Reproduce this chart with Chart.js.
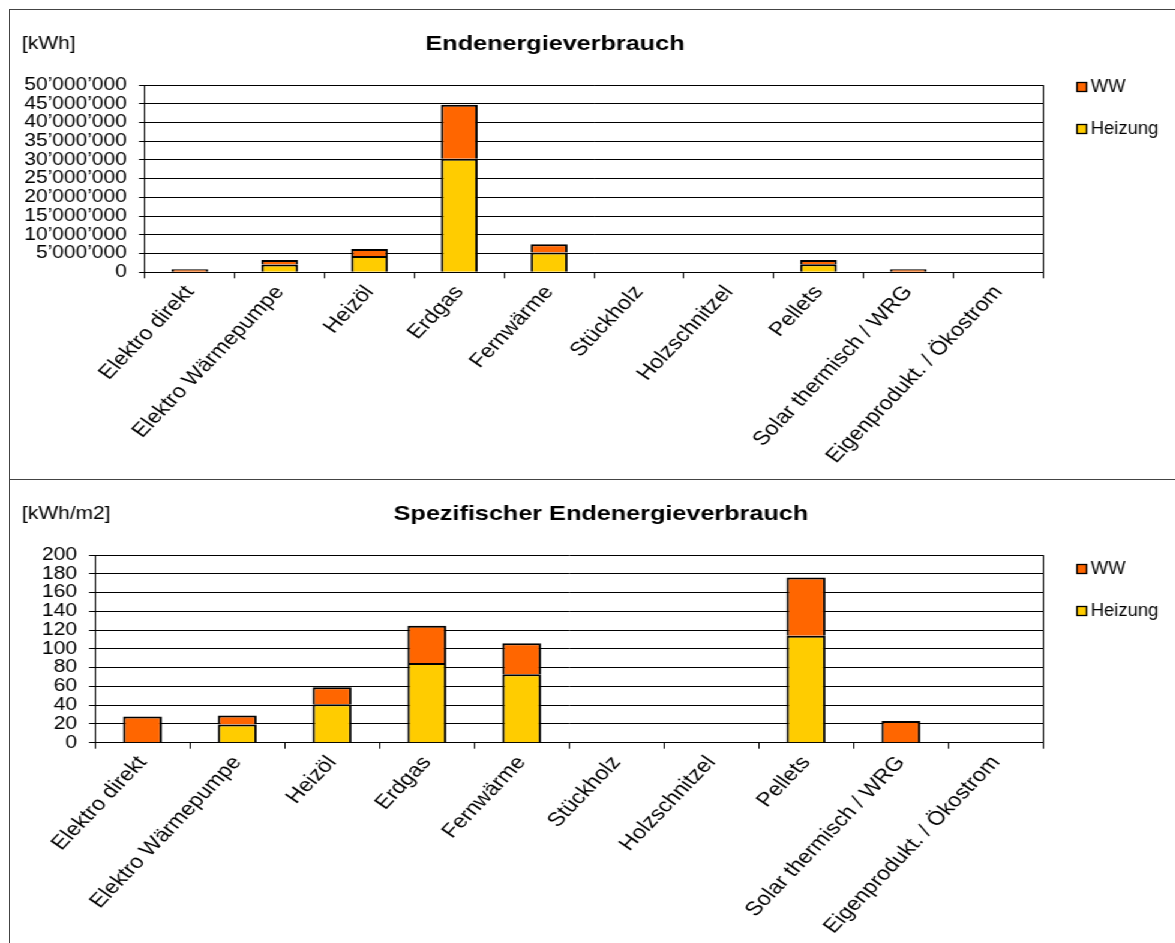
<!DOCTYPE html>
<html>
<head>
<meta charset="utf-8">
<title>Endenergieverbrauch</title>
<script src="https://cdn.jsdelivr.net/npm/chart.js@4.4.1/dist/chart.umd.min.js"></script>
<style>
  html, body { margin: 0; padding: 0; background: #fff; overflow: hidden; }
  #page { position: relative; width: 1175px; height: 943px; overflow: hidden; }
  /* charts are laid out on a narrower sheet and widened, like the printed report */
  #sheet { position: absolute; left: 0; top: 0; width: 980px; height: 943px;
           transform: scaleX(1.2); transform-origin: 0 0; }
  #sheet canvas { position: absolute; left: 0; }
  .rule { position: absolute; background: #444; }
</style>
</head>
<body>
<div id="page">
  <div id="sheet">
    <canvas id="chartTotal" width="980" height="479" style="top:0px"></canvas>
    <canvas id="chartSpez" width="980" height="464" style="top:479px"></canvas>
  </div>
  <div class="rule" style="left:9px; top:9px; width:1166px; height:1px"></div>
  <div class="rule" style="left:9px; top:9px; width:1px; height:934px"></div>
  <div class="rule" style="left:9px; top:479px; width:1166px; height:1px"></div>
</div>

<script>
// Energieträger
const categories = [
  'Elektro direkt', 'Elektro Wärmepumpe', 'Heizöl', 'Erdgas', 'Fernwärme',
  'Stückholz', 'Holzschnitzel', 'Pellets', 'Solar thermisch / WRG', 'Eigenprodukt. / Ökostrom'
];

// Endenergieverbrauch [kWh]
const heizungKWh = [null, 2100000, 4350000, 30300000, 5300000, null, null, 2150000, null, null];
const wwKWh      = [150000, 1200000, 1900000, 14400000, 2200000, null, null, 1150000, 450000, null];

// Spezifischer Endenergieverbrauch [kWh/m2]
const heizungSpez = [null, 19.5, 41, 85, 73, null, null, 114, null, null];
const wwSpez      = [28, 9.5, 18, 39.5, 33, null, null, 62, 23, null];

// Achsen
const ticksKWh  = [0, 5000000, 10000000, 15000000, 20000000, 25000000, 30000000, 35000000, 40000000, 45000000, 50000000];
const ticksSpez = [0, 20, 40, 60, 80, 100, 120, 140, 160, 180, 200];

const colorHeizung = '#FFCC00';
const colorWW = '#FF6600';
const FONT = "'Liberation Sans', Arial, sans-serif";
const SHEET_SCALE = 1.2;

function swissThousands(v) {
  return String(Math.round(v)).replace(/\B(?=(\d{3})+(?!\d))/g, '\u2019');
}

// titles, unit label, legend and the right edge of the plot frame
const decor = {
  id: 'decor',
  afterDraw(chart, args, o) {
    const ctx = chart.ctx;
    const a = chart.chartArea;
    ctx.save();
    ctx.strokeStyle = '#000';
    ctx.lineWidth = 1;
    const xr = Math.round(a.right) + 0.5;
    ctx.beginPath();
    ctx.moveTo(xr, a.top);
    ctx.lineTo(xr, a.bottom);
    ctx.stroke();

    ctx.fillStyle = '#000';
    ctx.textBaseline = 'middle';
    ctx.textAlign = 'left';
    ctx.font = `17.5px ${FONT}`;
    ctx.fillText(o.unit, o.unitX, o.unitY);

    ctx.textAlign = 'center';
    ctx.font = `bold 21px ${FONT}`;
    ctx.fillText(o.title, o.titleX, o.titleY);

    // legend, top entry is the upper stack segment
    const ds = chart.data.datasets.slice().reverse();
    ds.forEach((d, i) => {
      const y = o.legendY + i * o.legendGap;
      ctx.fillStyle = d.backgroundColor;
      ctx.fillRect(o.legendX, y - 4.5, 8, 9);
      ctx.strokeStyle = '#000';
      ctx.lineWidth = 1.3;
      ctx.strokeRect(o.legendX, y - 4.5, 8, 9);
      ctx.save();
      ctx.translate(o.legendX + 11.5, y);
      ctx.scale(1.05 / SHEET_SCALE, 1);
      ctx.fillStyle = '#000';
      ctx.textAlign = 'left';
      ctx.font = `17.5px ${FONT}`;
      ctx.fillText(d.label, 0, 0);
      ctx.restore();
    });
    ctx.restore();
  }
};

function makeChart(canvasId, cfg) {
  const H = cfg.height;
  return new Chart(document.getElementById(canvasId), {
    type: 'bar',
    data: {
      labels: categories,
      datasets: [
        { label: 'Heizung', data: cfg.heizung, backgroundColor: colorHeizung,
          borderColor: '#000', borderWidth: 2, minBarLength: 3 },
        { label: 'WW', data: cfg.ww, backgroundColor: colorWW,
          borderColor: '#000', borderWidth: 2, minBarLength: 3 }
      ]
    },
    options: {
      responsive: false,
      animation: false,
      events: [],
      categoryPercentage: 1,
      barPercentage: 0.41,
      layout: { padding: { left: 0, top: cfg.plotTop, right: 980 - cfg.plotRight, bottom: 0 } },
      plugins: {
        legend: { display: false },
        title: { display: false },
        tooltip: { enabled: false },
        decor: cfg.decor
      },
      scales: {
        x: {
          stacked: true,
          offset: true,
          grid: { display: true, drawOnChartArea: false, drawTicks: true, tickLength: 6,
                  offset: true, color: '#000', lineWidth: 1 },
          border: { display: true, color: '#000', width: 1 },
          // steeper on the narrow sheet so the labels read at about 45° once widened
          ticks: { autoSkip: false, maxRotation: 51, minRotation: 51, padding: 3,
                   color: '#000', font: { family: FONT, size: 19.5 } },
          afterFit: s => { s.height = H - cfg.plotBottom; }
        },
        y: {
          stacked: true,
          min: cfg.ticks[0],
          max: cfg.ticks[cfg.ticks.length - 1],
          afterBuildTicks: s => { s.ticks = cfg.ticks.map(v => ({ value: v })); },
          grid: { color: '#000', lineWidth: 1, drawTicks: true, tickLength: 5 },
          border: { display: true, color: '#000', width: 1 },
          ticks: { autoSkip: false, padding: 10, color: '#000',
                   font: { family: FONT, size: 17.5 }, callback: cfg.fmt },
          afterFit: s => { s.width = cfg.plotLeft; }
        }
      }
    },
    plugins: [decor]
  });
}

makeChart('chartTotal', {
  height: 479, plotLeft: 120.8, plotRight: 869.2, plotTop: 85, plotBottom: 272.3,
  heizung: heizungKWh, ww: wwKWh, ticks: ticksKWh,
  fmt: v => swissThousands(v),
  decor: { unit: '[kWh]', unitX: 18.3, unitY: 44, title: 'Endenergieverbrauch',
           titleX: 462.5, titleY: 44, legendX: 897.5, legendY: 87, legendGap: 42 }
});

makeChart('chartSpez', {
  height: 464, plotLeft: 79.2, plotRight: 869.2, plotTop: 76, plotBottom: 263.7,
  heizung: heizungSpez, ww: wwSpez, ticks: ticksSpez,
  fmt: v => String(v),
  decor: { unit: '[kWh/m2]', unitX: 18.3, unitY: 35, title: 'Spezifischer Endenergieverbrauch',
           titleX: 500.8, titleY: 35, legendX: 897.5, legendY: 90, legendGap: 42 }
});
</script>
</body>
</html>
